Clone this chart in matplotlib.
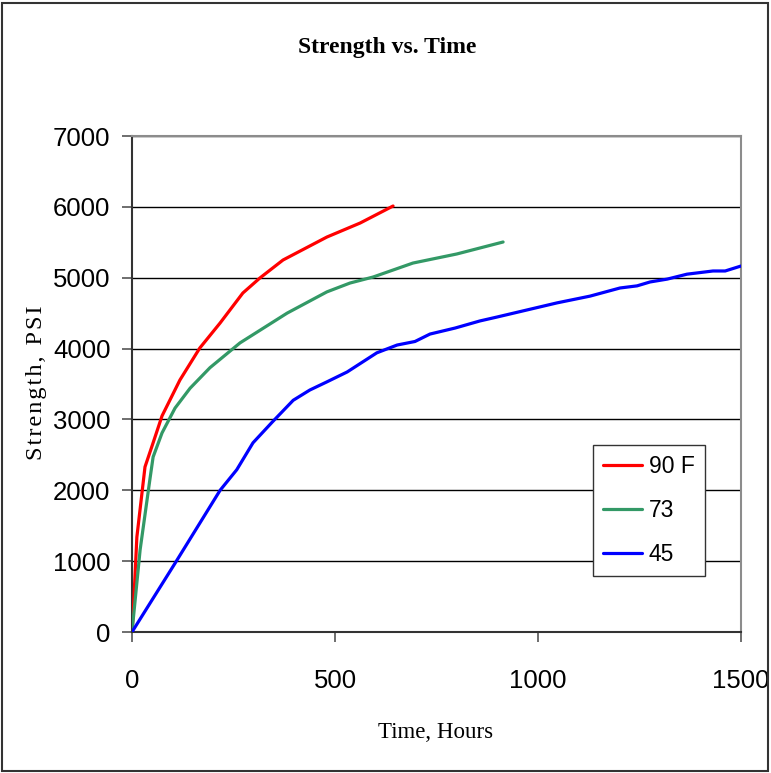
import matplotlib
matplotlib.use("Agg")
from matplotlib import pyplot as plt
from matplotlib.patches import Rectangle

# strength (psi) vs cure time (hours)
hours_90 = [0, 3, 12, 32, 52, 74, 118, 167, 217, 273, 315, 372, 480, 562, 643]
psi_90 = [0, 270, 1340, 2330, 2670, 3050, 3556, 4008, 4361, 4784, 4996, 5250, 5574, 5772, 6012]

hours_73 = [0, 20, 44, 52, 74, 106, 143, 192, 266, 382, 480, 537, 594, 692, 800, 914]
psi_73 = [0, 1160, 2150, 2470, 2810, 3160, 3440, 3730, 4080, 4500, 4800, 4925, 5010, 5207, 5335, 5504]

hours_45 = [0, 106, 217, 258, 298, 345, 397, 438, 480, 530, 603, 653, 697, 734, 796,
            857, 899, 973, 1047, 1128, 1202, 1244, 1276, 1318, 1367, 1431, 1461, 1500]
psi_45 = [0, 970, 2000, 2290, 2670, 2960, 3270, 3415, 3530, 3670, 3940, 4050, 4100, 4205, 4290,
          4390, 4445, 4545, 4645, 4740, 4855, 4885, 4940, 4980, 5050, 5095, 5095, 5165]

labels = ["90 F", "73", "45"]
colors = ["#FF0000", "#339966", "#0000FF"]
x_ticks = [0, 500, 1000, 1500]
y_ticks = [0, 1000, 2000, 3000, 4000, 5000, 6000, 7000]

tick_font = ["Liberation Sans", "DejaVu Sans"]
serif_font = ["Liberation Serif", "DejaVu Serif"]

fig = plt.figure(figsize=(7.71, 7.73), dpi=100)
ax = fig.add_axes([132 / 771, 1 - 632 / 773, (741 - 132) / 771, (632 - 136) / 773])

for h, p, lab, c in zip([hours_90, hours_73, hours_45], [psi_90, psi_73, psi_45], labels, colors):
    ax.plot(h, p, color=c, linewidth=2.3, label=lab, solid_capstyle="round", zorder=3)

ax.set_xlim(0, 1500)
ax.set_ylim(0, 7000)
ax.set_xticks(x_ticks)
ax.set_yticks(y_ticks)
ax.grid(axis="y", color="black", linewidth=1.0)
ax.set_axisbelow(True)

for s in ["top", "right"]:
    ax.spines[s].set_color("#8c8c8c")
    ax.spines[s].set_linewidth(1.5)
for s in ["left", "bottom"]:
    ax.spines[s].set_color("#333333")
    ax.spines[s].set_linewidth(1.5)

ax.tick_params(direction="out", length=7, width=1.2, color="#555555")
ax.tick_params(axis="y", pad=8.5)
ax.tick_params(axis="x", pad=20)
for t in ax.get_xticklabels() + ax.get_yticklabels():
    t.set_family(tick_font)
    t.set_fontsize(18.5)

leg = ax.legend(loc="lower right", bbox_to_anchor=(705 / 771, 1 - 576 / 773),
                bbox_transform=fig.transFigure, borderaxespad=0, frameon=True, fancybox=False,
                prop={"family": tick_font, "size": 16.5}, handlelength=1.7,
                labelspacing=0.9, borderpad=0.45, handletextpad=0.3)
leg.get_frame().set_edgecolor("#333333")
leg.get_frame().set_linewidth(1.0)
leg.get_frame().set_facecolor("white")
leg.get_frame().set_alpha(1.0)

fig.text(387 / 771, 1 - 48 / 773, "Strength vs. Time", ha="center", va="center",
         family=serif_font, fontsize=17, fontweight="bold")
fig.text(436 / 771, 1 - 733 / 773, "Time, Hours", ha="center", va="center",
         family=serif_font, fontsize=16.5)
# letter-spaced like the original (hair spaces between letters)
fig.text(37 / 771, 1 - 383 / 773, "\u200a".join("Strength,") + "\u2009 " + "\u200a".join("PSI"),
         ha="center", va="center", rotation=90, family=serif_font, fontsize=17.5)

# outer chart border
fig.patches.append(Rectangle((2 / 771, 2 / 773), 766 / 771, 768 / 773, transform=fig.transFigure,
                             fill=False, edgecolor="#333333", linewidth=1.5))

fig.savefig("out.png", dpi=100)
